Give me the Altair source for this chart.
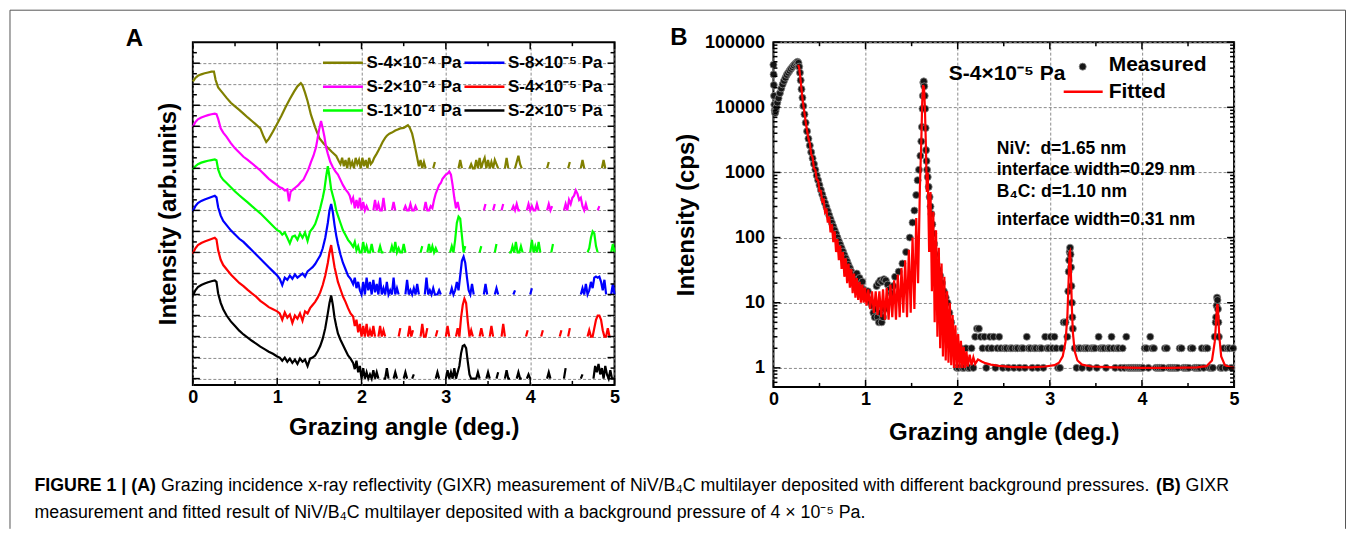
import altair as alt
import pandas as pd

FONT = "Arial"

# ---------------- Panel A : six stacked GIXR curves (log10 units above own baseline) -------------
A_NAMES = ["S-4×10⁻⁴ Pa", "S-8×10⁻⁵ Pa", "S-2×10⁻⁴ Pa",
           "S-4×10⁻⁵ Pa", "S-1×10⁻⁴ Pa", "S-2×10⁻⁵ Pa"]
A_COLORS = ["#808000", "#0000ff", "#ff00ff", "#ff0000", "#00ff00", "#000000"]
A_OFFSETS = [10, 4, 8, 2, 6, 0]

A_OLIVE = [
    (0.00, 4.13), (0.03, 4.3), (0.06, 4.4), (0.10, 4.47), (0.14, 4.52), (0.18, 4.56), (0.22, 4.6),
    (0.25, 4.6), (0.27, 4.2), (0.30, 3.85), (0.35, 3.6), (0.40, 3.35), (0.45, 3.12), (0.50, 2.95),
    (0.55, 2.78), (0.60, 2.6), (0.65, 2.42), (0.70, 2.25), (0.75, 2.08), (0.80, 1.9), (0.84, 1.5),
    (0.87, 1.25), (0.90, 1.4), (0.95, 1.75), (1.00, 2.12), (1.05, 2.5), (1.10, 2.92), (1.15, 3.3),
    (1.20, 3.65), (1.24, 3.9), (1.28, 4.05), (1.30, 3.95), (1.33, 3.6), (1.36, 3.2), (1.40, 2.55),
    (1.45, 1.95), (1.50, 1.43), (1.55, 1.18), (1.60, 0.98), (1.65, 0.78), (1.70, 0.59), (1.73, 0.35),
    (1.75, 0.2), (1.77, 0.5), (1.79, 0.1), (1.81, 0.4), (1.83, 0.0), (1.85, 0.5), (1.87, 0.1),
    (1.89, 0.3), (1.91, 0.0), (1.93, 0.5), (1.95, 0.2), (1.97, 0.4), (1.99, 0.0), (2.01, 0.5),
    (2.03, 0.1), (2.05, 0.4), (2.07, 0.0), (2.09, 0.5), (2.11, 0.2), (2.13, 0.3), (2.15, 0.5),
    (2.18, 0.7), (2.20, 0.85), (2.22, 1.0), (2.25, 1.25), (2.28, 1.45), (2.30, 1.55), (2.33, 1.65),
    (2.36, 1.7), (2.40, 1.8), (2.43, 1.85), (2.46, 1.9), (2.50, 1.92), (2.53, 2.0), (2.55, 2.05),
    (2.57, 1.95), (2.60, 1.65), (2.62, 1.3), (2.64, 0.9), (2.66, 0.5), (2.68, 0.1), (2.70, 0.4),
    (2.72, 0.0), (2.74, 0.3), (2.76, 0.0), (2.78, None), (2.85, 0.0), (2.87, 0.3), (2.89, None),
    (3.00, 0.0), (3.02, None), (3.15, 0.0), (3.17, 0.4), (3.19, 0.0), (3.21, None), (3.28, 0.0),
    (3.30, 0.2), (3.32, 0.0), (3.34, 0.0), (3.36, 0.4), (3.38, 0.0), (3.40, 0.5), (3.42, 0.0),
    (3.44, 0.3), (3.46, 0.5), (3.48, 0.0), (3.50, 0.4), (3.52, 0.0), (3.54, 0.3), (3.56, 0.0),
    (3.58, 0.4), (3.60, 0.2), (3.62, 0.0), (3.64, None), (3.70, 0.0), (3.72, 0.5), (3.74, 0.0),
    (3.76, None), (3.82, 0.0), (3.84, 0.3), (3.86, 0.6), (3.88, 0.2), (3.90, 0.0), (3.92, None),
    (4.00, 0.0), (4.02, None), (4.10, 0.0), (4.12, None), (4.20, 0.0), (4.22, 0.3), (4.24, None),
    (4.30, 0.0), (4.32, None), (4.45, 0.0), (4.47, 0.3), (4.49, None), (4.60, 0.0), (4.62, 0.4),
    (4.64, 0.0), (4.66, None), (4.85, 0.0), (4.87, 0.4), (4.89, 0.0), (4.91, None),
]

A_MAGENTA = [
    (0.00, 3.98), (0.03, 4.2), (0.06, 4.33), (0.10, 4.42), (0.14, 4.48), (0.18, 4.53), (0.22, 4.57),
    (0.26, 4.6), (0.28, 4.58), (0.30, 4.35), (0.33, 3.9), (0.36, 3.7), (0.40, 3.5), (0.45, 3.2),
    (0.50, 2.95), (0.55, 2.75), (0.60, 2.55), (0.65, 2.4), (0.70, 2.24), (0.75, 2.07), (0.80, 1.9),
    (0.85, 1.7), (0.90, 1.5), (0.95, 1.35), (1.00, 1.2), (1.03, 1.1), (1.06, 1.05), (1.09, 0.95),
    (1.12, 1.0), (1.14, 0.43), (1.16, 0.9), (1.19, 1.0), (1.22, 1.1), (1.25, 1.2), (1.28, 1.35),
    (1.31, 1.45), (1.34, 1.7), (1.37, 1.95), (1.40, 2.3), (1.43, 2.6), (1.46, 3.0), (1.48, 3.45),
    (1.50, 3.9), (1.52, 4.25), (1.54, 3.9), (1.56, 3.5), (1.58, 3.0), (1.60, 2.7), (1.63, 2.3),
    (1.66, 2.05), (1.69, 1.85), (1.72, 1.7), (1.75, 1.45), (1.78, 1.2), (1.81, 1.0), (1.84, 0.85),
    (1.86, 0.7), (1.88, 0.4), (1.90, 0.6), (1.92, 0.1), (1.94, 0.5), (1.96, 0.1), (1.98, 0.6),
    (2.00, 0.0), (2.02, 0.4), (2.04, 0.0), (2.06, 0.2), (2.08, 0.0), (2.10, None), (2.14, 0.0),
    (2.16, 0.5), (2.18, 0.0), (2.20, 0.3), (2.22, 0.0), (2.24, 0.0), (2.26, 0.6), (2.28, 0.0),
    (2.30, None), (2.36, 0.0), (2.38, 0.4), (2.40, 0.0), (2.42, None), (2.50, 0.0), (2.52, 0.2),
    (2.54, 0.0), (2.56, 0.0), (2.58, 0.3), (2.60, 0.0), (2.62, 0.0), (2.64, 0.2), (2.66, 0.0),
    (2.68, None), (2.74, 0.0), (2.76, 0.4), (2.78, 0.0), (2.80, 0.0), (2.82, 0.2), (2.84, 0.1),
    (2.86, 0.5), (2.88, 0.8), (2.90, 1.0), (2.92, 1.2), (2.94, 1.3), (2.96, 1.5), (2.98, 1.6),
    (3.00, 1.7), (3.02, 1.75), (3.04, 1.85), (3.06, 1.7), (3.08, 1.2), (3.10, 0.6), (3.12, 0.1),
    (3.14, 0.4), (3.16, 0.0), (3.18, None), (3.25, 0.0), (3.27, None), (3.35, 0.0), (3.37, None),
    (3.45, 0.0), (3.47, 0.3), (3.49, None), (3.56, 0.0), (3.58, 0.3), (3.60, None), (3.66, 0.0),
    (3.68, 0.3), (3.70, None), (3.78, 0.0), (3.80, 0.2), (3.82, 0.0), (3.84, 0.3), (3.86, 0.0),
    (3.88, 0.0), (3.90, None), (3.96, 0.0), (3.98, 0.3), (4.00, 0.0), (4.02, 0.2), (4.04, 0.0),
    (4.06, 0.0), (4.08, 0.3), (4.10, 0.0), (4.12, None), (4.20, 0.0), (4.22, 0.3), (4.24, 0.0),
    (4.26, 0.2), (4.28, None), (4.40, 0.0), (4.42, 0.3), (4.44, 0.0), (4.46, 0.5), (4.48, 0.3),
    (4.50, 0.6), (4.52, 0.7), (4.54, 0.95), (4.56, 0.8), (4.58, 0.5), (4.60, 0.6), (4.62, 0.2),
    (4.64, 0.0), (4.66, 0.3), (4.68, 0.0), (4.70, None), (4.80, 0.0), (4.82, 0.2), (4.84, None),
    (4.95, 0.0), (4.97, None),
]

A_GREEN = [
    (0.00, 3.95), (0.03, 4.1), (0.06, 4.2), (0.10, 4.27), (0.14, 4.32), (0.18, 4.36), (0.22, 4.39),
    (0.26, 4.42), (0.28, 4.38), (0.30, 3.95), (0.33, 3.62), (0.36, 3.45), (0.40, 3.3), (0.45, 3.1),
    (0.50, 2.9), (0.55, 2.72), (0.60, 2.55), (0.65, 2.38), (0.70, 2.2), (0.75, 2.03), (0.80, 1.86),
    (0.85, 1.66), (0.90, 1.46), (0.95, 1.26), (1.00, 1.06), (1.03, 1.0), (1.06, 0.85), (1.09, 0.95),
    (1.12, 0.7), (1.15, 0.43), (1.18, 0.75), (1.21, 0.8), (1.24, 0.6), (1.27, 0.9), (1.30, 0.7),
    (1.33, 0.95), (1.36, 0.55), (1.39, 1.0), (1.42, 1.15), (1.45, 1.35), (1.48, 1.7), (1.51, 2.1),
    (1.54, 2.6), (1.56, 3.0), (1.58, 3.6), (1.60, 4.1), (1.62, 3.6), (1.64, 3.0), (1.66, 2.7),
    (1.68, 2.4), (1.70, 2.0), (1.72, 1.75), (1.75, 1.4), (1.78, 1.05), (1.81, 0.83), (1.84, 0.6),
    (1.87, 0.45), (1.90, 0.27), (1.92, 0.5), (1.94, 0.1), (1.96, 0.3), (1.98, 0.0), (2.00, 0.0),
    (2.02, 0.5), (2.04, 0.0), (2.06, 0.3), (2.08, 0.0), (2.10, 0.0), (2.12, 0.4), (2.14, 0.0),
    (2.16, None), (2.20, 0.0), (2.22, 0.3), (2.24, 0.0), (2.26, 0.0), (2.28, None), (2.34, 0.0),
    (2.36, 0.3), (2.38, 0.0), (2.40, 0.5), (2.42, 0.0), (2.44, 0.2), (2.46, 0.0), (2.48, 0.0),
    (2.50, 0.4), (2.52, 0.0), (2.54, None), (2.70, 0.0), (2.72, 0.3), (2.74, None), (2.78, 0.0),
    (2.80, 0.4), (2.82, 0.0), (2.84, 0.3), (2.86, 0.0), (2.88, 0.2), (2.90, 0.0), (2.92, None),
    (3.05, 0.0), (3.07, 0.3), (3.09, 0.0), (3.11, 0.6), (3.13, 1.4), (3.15, 1.7), (3.17, 1.6),
    (3.19, 0.8), (3.21, 0.0), (3.23, 0.3), (3.25, None), (3.40, 0.0), (3.42, 0.3), (3.44, None),
    (3.58, 0.0), (3.60, 0.4), (3.62, None), (3.75, 0.0), (3.77, 0.0), (3.79, 0.3), (3.81, 0.0),
    (3.83, 0.5), (3.85, 0.0), (3.87, 0.0), (3.89, 0.3), (3.91, 0.0), (3.93, None), (4.00, 0.0),
    (4.02, 0.6), (4.04, 0.0), (4.06, 0.3), (4.08, 0.0), (4.10, 0.5), (4.12, 0.0), (4.14, None),
    (4.25, 0.0), (4.27, 0.4), (4.29, None), (4.40, 0.0), (4.42, None), (4.55, 0.0), (4.57, None),
    (4.68, 0.0), (4.70, 0.2), (4.72, 0.7), (4.74, 1.0), (4.76, 0.9), (4.78, 0.3), (4.80, 0.0),
    (4.82, None), (4.96, 0.0), (4.98, 0.4), (5.00, 0.0),
]

A_BLUE = [
    (0.00, 3.97), (0.03, 4.2), (0.06, 4.35), (0.10, 4.45), (0.14, 4.52), (0.18, 4.58), (0.22, 4.64),
    (0.26, 4.7), (0.28, 4.62), (0.30, 4.15), (0.33, 3.75), (0.36, 3.5), (0.40, 3.3), (0.45, 3.05),
    (0.50, 2.85), (0.55, 2.65), (0.60, 2.5), (0.65, 2.3), (0.70, 2.1), (0.75, 1.9), (0.80, 1.7),
    (0.85, 1.5), (0.90, 1.3), (0.95, 1.1), (1.00, 0.9), (1.03, 0.75), (1.06, 0.45), (1.09, 0.8),
    (1.12, 0.7), (1.15, 0.9), (1.18, 0.75), (1.21, 0.95), (1.24, 0.8), (1.27, 0.9), (1.30, 1.0),
    (1.33, 0.85), (1.36, 1.1), (1.39, 1.2), (1.42, 1.3), (1.45, 1.45), (1.48, 1.65), (1.51, 1.85),
    (1.54, 2.2), (1.57, 2.7), (1.60, 3.4), (1.62, 4.0), (1.64, 4.3), (1.66, 3.9), (1.68, 3.3),
    (1.70, 2.8), (1.72, 2.4), (1.75, 1.9), (1.78, 1.5), (1.81, 1.2), (1.84, 0.9), (1.87, 0.75),
    (1.90, 0.5), (1.92, 0.8), (1.94, 0.3), (1.96, 0.6), (1.98, 0.2), (2.00, 0.0), (2.02, 0.6),
    (2.04, 0.0), (2.06, 0.8), (2.08, 0.2), (2.10, 0.6), (2.12, 0.0), (2.14, 0.7), (2.16, 0.1),
    (2.18, 0.5), (2.20, 0.0), (2.22, 0.8), (2.24, 0.0), (2.26, 0.3), (2.28, 0.0), (2.30, 0.6),
    (2.32, 0.0), (2.34, 0.2), (2.36, 0.0), (2.38, 0.8), (2.40, 0.0), (2.42, 0.3), (2.44, 0.0),
    (2.46, None), (2.52, 0.0), (2.54, 0.7), (2.56, 0.0), (2.58, 0.2), (2.60, 0.0), (2.62, 0.3),
    (2.64, 0.0), (2.66, 0.5), (2.68, 0.0), (2.70, None), (2.75, 0.0), (2.77, 0.8), (2.79, 0.0),
    (2.81, 0.2), (2.83, 0.0), (2.85, 0.3), (2.87, 0.0), (2.90, 0.0), (2.92, 0.2), (2.94, 0.0),
    (2.96, None), (3.05, 0.0), (3.07, 0.3), (3.09, 0.0), (3.11, 0.2), (3.13, 0.6), (3.15, 0.2),
    (3.17, 0.9), (3.19, 1.6), (3.21, 1.8), (3.23, 1.5), (3.25, 0.8), (3.27, 0.2), (3.29, 0.0),
    (3.31, 0.5), (3.33, 0.0), (3.35, None), (3.45, 0.0), (3.47, 0.5), (3.49, 0.0), (3.51, None),
    (3.58, 0.0), (3.60, 0.3), (3.62, 0.0), (3.64, None), (3.70, 0.0), (3.72, None), (3.80, 0.0),
    (3.82, 0.2), (3.84, None), (3.90, 0.0), (3.92, None), (4.00, 0.0), (4.02, 0.3), (4.04, None),
    (4.10, 0.0), (4.12, None), (4.50, 0.0), (4.52, None), (4.60, 0.0), (4.62, 0.3), (4.64, 0.0),
    (4.66, 0.5), (4.68, 0.0), (4.70, 0.2), (4.72, 0.6), (4.74, 0.3), (4.76, 0.8), (4.78, 0.85),
    (4.80, 0.8), (4.82, 0.85), (4.84, 0.6), (4.86, 0.2), (4.88, 0.7), (4.90, 0.0), (4.92, None),
    (4.96, 0.0), (4.98, 0.5), (5.00, 0.0),
]

A_RED = [
    (0.00, 3.95), (0.03, 4.2), (0.06, 4.35), (0.10, 4.45), (0.14, 4.52), (0.18, 4.58), (0.22, 4.64),
    (0.26, 4.7), (0.28, 4.62), (0.30, 4.1), (0.33, 3.65), (0.36, 3.4), (0.40, 3.2), (0.45, 2.95),
    (0.50, 2.75), (0.55, 2.55), (0.60, 2.4), (0.65, 2.22), (0.70, 2.05), (0.75, 1.9), (0.80, 1.7),
    (0.85, 1.55), (0.90, 1.4), (0.95, 1.3), (1.00, 1.2), (1.03, 1.1), (1.06, 0.8), (1.09, 1.15),
    (1.12, 0.9), (1.15, 1.05), (1.18, 0.65), (1.21, 1.0), (1.24, 0.85), (1.27, 1.1), (1.30, 0.75),
    (1.33, 1.2), (1.36, 1.1), (1.39, 1.35), (1.42, 1.5), (1.45, 1.65), (1.48, 1.85), (1.51, 2.1),
    (1.54, 2.45), (1.57, 2.9), (1.60, 3.5), (1.62, 4.0), (1.64, 4.35), (1.66, 3.8), (1.68, 3.3),
    (1.70, 2.95), (1.72, 2.6), (1.75, 2.25), (1.78, 1.9), (1.81, 1.65), (1.84, 1.35), (1.87, 1.1),
    (1.90, 0.95), (1.92, 0.5), (1.94, 0.8), (1.96, 0.2), (1.98, 0.6), (2.00, 0.0), (2.02, 0.5),
    (2.04, 0.0), (2.06, 0.6), (2.08, 0.0), (2.10, 0.3), (2.12, 0.0), (2.14, 0.5), (2.16, 0.0),
    (2.18, None), (2.20, 0.0), (2.22, 0.5), (2.24, 0.0), (2.26, 0.3), (2.28, 0.0), (2.30, None),
    (2.35, 0.0), (2.37, None), (2.44, 0.0), (2.46, 0.4), (2.48, None), (2.55, 0.0), (2.57, 0.5),
    (2.59, 0.0), (2.61, 0.3), (2.63, None), (2.70, 0.0), (2.72, 0.6), (2.74, 0.0), (2.76, 0.0),
    (2.78, 0.4), (2.80, None), (2.88, 0.0), (2.90, 0.3), (2.92, None), (3.00, 0.0), (3.02, 0.5),
    (3.04, 0.0), (3.06, None), (3.12, 0.0), (3.14, 0.4), (3.16, 0.0), (3.18, 0.9), (3.20, 1.5),
    (3.22, 1.8), (3.24, 1.6), (3.26, 0.7), (3.28, 0.0), (3.30, 0.3), (3.32, 0.0), (3.34, None),
    (3.40, 0.0), (3.42, 0.4), (3.44, 0.0), (3.46, None), (3.52, 0.0), (3.54, 0.5), (3.56, 0.0),
    (3.58, None), (3.66, 0.0), (3.68, 0.6), (3.70, 0.0), (3.72, None), (3.95, 0.0), (3.97, 0.3),
    (3.99, None), (4.05, 0.0), (4.07, None), (4.13, 0.0), (4.15, 0.3), (4.17, None), (4.25, 0.0),
    (4.27, None), (4.35, 0.0), (4.37, 0.3), (4.39, None), (4.45, 0.0), (4.47, 0.4), (4.49, None),
    (4.58, 0.0), (4.60, None), (4.68, 0.0), (4.70, 0.3), (4.72, 0.0), (4.74, 0.0), (4.76, 0.4),
    (4.78, 0.8), (4.80, 1.0), (4.82, 1.0), (4.84, 0.8), (4.86, 0.3), (4.88, 0.0), (4.90, 0.0),
    (4.92, 0.4), (4.94, 0.0), (4.96, None), (5.00, 0.0),
]

A_BLACK = [
    (0.00, 3.95), (0.03, 4.2), (0.06, 4.35), (0.10, 4.45), (0.14, 4.52), (0.18, 4.58), (0.22, 4.63),
    (0.26, 4.67), (0.28, 4.6), (0.30, 4.05), (0.33, 3.6), (0.36, 3.3), (0.40, 3.0), (0.45, 2.72),
    (0.50, 2.5), (0.55, 2.28), (0.60, 2.1), (0.65, 1.95), (0.70, 1.8), (0.75, 1.66), (0.80, 1.52),
    (0.85, 1.4), (0.90, 1.28), (0.95, 1.18), (1.00, 1.05), (1.03, 1.0), (1.06, 0.85), (1.09, 1.0),
    (1.12, 0.8), (1.15, 0.95), (1.18, 0.75), (1.21, 0.9), (1.24, 0.7), (1.27, 0.95), (1.30, 0.8),
    (1.33, 0.9), (1.36, 0.6), (1.39, 0.95), (1.42, 1.0), (1.45, 1.1), (1.48, 1.3), (1.51, 1.55),
    (1.54, 1.9), (1.57, 2.4), (1.60, 3.1), (1.62, 3.6), (1.64, 3.95), (1.66, 3.5), (1.68, 2.9),
    (1.70, 2.5), (1.72, 2.15), (1.75, 1.85), (1.78, 1.6), (1.81, 1.35), (1.84, 1.1), (1.87, 0.95),
    (1.90, 0.75), (1.92, 0.45), (1.94, 0.85), (1.96, 0.3), (1.98, 0.6), (2.00, 0.0), (2.02, 0.5),
    (2.04, 0.0), (2.06, 0.3), (2.08, 0.0), (2.10, 0.2), (2.12, 0.0), (2.14, 0.4), (2.16, 0.0),
    (2.18, 0.3), (2.20, 0.0), (2.22, None), (2.26, 0.0), (2.28, 0.0), (2.30, 0.5), (2.32, 0.0),
    (2.34, None), (2.38, 0.0), (2.40, 0.3), (2.42, 0.0), (2.45, None), (2.50, 0.0), (2.52, 0.3),
    (2.54, 0.0), (2.56, None), (2.60, 0.0), (2.62, 0.2), (2.64, None), (2.70, 0.0), (2.72, None),
    (2.80, 0.0), (2.82, None), (2.88, 0.0), (2.90, 0.3), (2.92, 0.0), (2.94, None), (3.00, 0.0),
    (3.02, 0.4), (3.04, 0.0), (3.06, 0.3), (3.08, 0.0), (3.10, 0.5), (3.12, 0.0), (3.14, 0.3),
    (3.16, 0.6), (3.18, 1.2), (3.20, 1.55), (3.22, 1.6), (3.24, 1.45), (3.26, 0.8), (3.28, 0.2),
    (3.30, 0.0), (3.33, 0.0), (3.36, 0.0), (3.38, 0.3), (3.40, 0.0), (3.42, None), (3.48, 0.0),
    (3.50, 0.3), (3.52, 0.0), (3.54, None), (3.60, 0.0), (3.62, 0.3), (3.64, None), (3.70, 0.0),
    (3.72, 0.4), (3.74, 0.0), (3.76, 0.0), (3.78, None), (3.84, 0.0), (3.86, 0.3), (3.88, 0.0),
    (3.90, 0.0), (3.92, None), (3.96, 0.0), (3.98, 0.2), (4.00, 0.0), (4.02, None), (4.10, 0.0),
    (4.12, None), (4.20, 0.0), (4.22, 0.3), (4.24, 0.0), (4.26, None), (4.40, 0.0), (4.42, 0.5),
    (4.44, None), (4.52, 0.0), (4.54, None), (4.60, 0.0), (4.62, 0.2), (4.64, None), (4.75, 0.0),
    (4.77, 0.6), (4.79, 0.3), (4.81, 0.7), (4.83, 0.2), (4.85, 0.5), (4.87, 0.0), (4.89, 0.6),
    (4.91, 0.2), (4.93, 0.0), (4.95, 0.4), (4.97, 0.0), (5.00, 0.0),
]

A_SERIES = [A_OLIVE, A_BLUE, A_MAGENTA, A_RED, A_GREEN, A_BLACK]

# ---------------- Panel B : measured counts and fitted curve (cps) ----------------
B_MEASURED = [
    (0.000, 45000), (0.002, 32000), (0.004, 22000), (0.007, 15000), (0.010, 11000), (0.014, 9000),
    (0.018, 8200), (0.024, 8800), (0.032, 10000), (0.042, 11800), (0.055, 13800), (0.070, 16500),
    (0.085, 19500), (0.100, 22500), (0.115, 25500), (0.130, 28500), (0.145, 31500), (0.160, 34000),
    (0.175, 36500), (0.190, 39000), (0.205, 41500), (0.220, 44000), (0.235, 46500), (0.250, 48500),
    (0.262, 50000), (0.272, 48000), (0.280, 42000), (0.288, 34000), (0.296, 26000), (0.305, 19000),
    (0.315, 14000), (0.325, 10500), (0.337, 7800), (0.350, 5800), (0.365, 4300), (0.380, 3300),
    (0.395, 2600), (0.410, 2050), (0.425, 1650), (0.440, 1350), (0.455, 1100), (0.470, 900),
    (0.485, 760), (0.500, 640), (0.515, 540), (0.530, 460), (0.545, 395), (0.560, 340),
    (0.575, 295), (0.590, 255), (0.605, 220), (0.620, 192), (0.635, 168), (0.650, 148),
    (0.665, 130), (0.680, 114), (0.695, 100), (0.710, 88), (0.725, 78), (0.740, 69), (0.755, 61),
    (0.770, 54), (0.785, 48), (0.800, 43), (0.815, 38), (0.830, 34), (0.845, 30), (0.860, 27),
    (0.875, 24), (0.890, 22), (0.905, 28), (0.920, 20), (0.935, 24), (0.950, 18), (0.965, 21),
    (0.980, 16), (0.995, 15), (1.010, 13), (1.025, 15), (1.040, 11), (1.055, 10), (1.070, 9),
    (1.085, 7), (1.100, 6), (1.115, 8), (1.130, 6), (1.145, 5), (1.160, 7), (1.175, 5), (1.190, 6),
    (1.205, 8), (1.120, 18), (1.140, 20), (1.160, 22), (1.180, 21), (1.200, 23), (1.220, 22),
    (1.240, 19), (1.260, 16), (1.280, 14), (1.300, 18), (1.320, 25), (1.360, 30), (1.400, 40),
    (1.440, 60), (1.480, 100), (1.510, 170), (1.530, 260), (1.550, 450), (1.565, 760),
    (1.580, 1100), (1.595, 1800), (1.605, 3000), (1.612, 5000), (1.618, 9500), (1.622, 15000),
    (1.627, 24000), (1.632, 25000), (1.637, 21000), (1.642, 15000), (1.647, 9500), (1.652, 4800),
    (1.657, 2200), (1.662, 1500), (1.668, 1100), (1.675, 850), (1.685, 600), (1.695, 420),
    (1.705, 300), (1.715, 230), (1.725, 160), (1.735, 115), (1.745, 80), (1.755, 55), (1.770, 40),
    (1.790, 32), (1.810, 26), (1.830, 20), (1.850, 15), (1.870, 12), (1.890, 10), (1.910, 7),
    (1.930, 5), (1.950, 3), (1.970, 2),
    (1.99, 1), (2.01, 1), (2.03, 2), (2.05, 1), (2.07, 1), (2.09, 2), (2.11, 1), (2.13, 1),
    (2.15, 2), (2.17, 1), (2.19, 3), (2.21, 4), (2.23, 4), (2.25, 3), (2.27, 2), (2.29, 3),
    (2.31, 1), (2.33, 2), (2.35, 3), (2.37, 2), (2.39, 3), (2.41, 1), (2.43, 2), (2.45, 3),
    (2.47, 2), (2.49, 1), (2.51, 2), (2.53, 2), (2.55, 1), (2.57, 2), (2.59, 2), (2.61, 1),
    (2.63, 2), (2.65, 2), (2.67, 1), (2.69, 2), (2.71, 2), (2.73, 1), (2.75, 3), (2.77, 2),
    (2.79, 2), (2.81, 1), (2.83, 2), (2.85, 2), (2.87, 1), (2.89, 2), (2.91, 2), (2.93, 1),
    (2.95, 3), (2.97, 2), (2.99, 2), (3.01, 3), (3.03, 2), (3.05, 3), (3.07, 2), (3.09, 1),
    (3.11, 1), (3.13, 2), (3.15, 5), (3.17, 5), (3.19, 3), (3.200, 15), (3.205, 30), (3.210, 45),
    (3.215, 60), (3.220, 70), (3.225, 55), (3.230, 35), (3.235, 18), (3.240, 10), (3.245, 6),
    (3.25, 4), (3.27, 2), (3.29, 1), (3.31, 2), (3.33, 2), (3.35, 1), (3.37, 2), (3.39, 2),
    (3.41, 2), (3.43, 1), (3.45, 2), (3.47, 2), (3.49, 2), (3.51, 1), (3.53, 3), (3.55, 2),
    (3.57, 2), (3.59, 2), (3.61, 1), (3.63, 2), (3.65, 2), (3.67, 3), (3.69, 2), (3.71, 1),
    (3.73, 2), (3.75, 2), (3.77, 1), (3.79, 2), (3.81, 1), (3.83, 3), (3.85, 1), (3.87, 1),
    (3.89, 1), (3.91, 1), (3.93, 1), (3.95, 1), (3.97, 1), (3.99, 1), (4.01, 1), (4.03, 2),
    (4.05, 2), (4.07, 1), (4.09, 3), (4.11, 2), (4.13, 2), (4.15, 1), (4.17, 1), (4.19, 1),
    (4.21, 1), (4.23, 1), (4.25, 2), (4.27, 2), (4.29, 1), (4.31, 1), (4.33, 1), (4.35, 1),
    (4.37, 1), (4.39, 1), (4.41, 2), (4.43, 2), (4.45, 1), (4.47, 1), (4.49, 1), (4.51, 1),
    (4.53, 2), (4.55, 2), (4.57, 1), (4.59, 1), (4.61, 1), (4.63, 1), (4.65, 2), (4.67, 1),
    (4.69, 2), (4.71, 2), (4.73, 1), (4.75, 1), (4.77, 1), (4.79, 3), (4.800, 5), (4.805, 6),
    (4.810, 9), (4.815, 12), (4.820, 11), (4.825, 8), (4.830, 5), (4.835, 3), (4.85, 1),
    (4.87, 1), (4.89, 2), (4.91, 1), (4.93, 2), (4.95, 2), (4.97, 1), (4.99, 2),
]

B_FITTED = [
    (0.270, 45000), (0.280, 40000), (0.290, 30000), (0.300, 22000), (0.310, 16000), (0.320, 12000),
    (0.335, 8500), (0.350, 6000), (0.365, 4400), (0.380, 3300), (0.395, 2800), (0.410, 1900),
    (0.425, 1700), (0.440, 1150), (0.455, 1100), (0.470, 780), (0.485, 750), (0.500, 520),
    (0.515, 520), (0.530, 360), (0.545, 380), (0.560, 250), (0.575, 280), (0.590, 170),
    (0.605, 210), (0.620, 120), (0.635, 160), (0.650, 85), (0.665, 125), (0.680, 60), (0.695, 95),
    (0.710, 45), (0.725, 75), (0.740, 33), (0.755, 60), (0.770, 25), (0.785, 48), (0.800, 20),
    (0.815, 40), (0.830, 17), (0.845, 33), (0.860, 14), (0.875, 28), (0.890, 12), (0.905, 24),
    (0.920, 11), (0.935, 21), (0.950, 10), (0.965, 19), (0.980, 10), (0.995, 17), (1.010, 9),
    (1.030, 16), (1.050, 8), (1.070, 15), (1.090, 7), (1.110, 15), (1.130, 6.5), (1.150, 15),
    (1.170, 6), (1.190, 16), (1.210, 5.5), (1.230, 17), (1.250, 5.5), (1.270, 19), (1.290, 6),
    (1.310, 22), (1.330, 5.5), (1.350, 27), (1.370, 6), (1.390, 34), (1.410, 7), (1.430, 45),
    (1.450, 6), (1.470, 65), (1.490, 7), (1.510, 100), (1.530, 8), (1.550, 200), (1.570, 20),
    (1.590, 600), (1.605, 3000), (1.615, 12000), (1.625, 22000), (1.635, 20000), (1.645, 9000),
    (1.655, 2500), (1.665, 500), (1.675, 1000), (1.690, 60), (1.705, 500), (1.720, 15),
    (1.735, 250), (1.750, 5), (1.765, 130), (1.780, 3), (1.795, 70), (1.810, 2), (1.825, 40),
    (1.840, 1.5), (1.855, 25), (1.870, 1.3), (1.885, 15), (1.900, 1.2), (1.915, 10), (1.930, 1.1),
    (1.945, 6.5), (1.960, 1.0), (1.975, 4.5), (1.990, 1.0), (2.005, 3.3), (2.020, 1.0),
    (2.035, 2.6), (2.050, 1.0), (2.065, 2.1), (2.080, 1.0), (2.095, 1.8), (2.110, 1.05),
    (2.130, 1.6), (2.150, 1.1), (2.170, 1.45), (2.190, 1.15), (2.220, 1.35), (2.260, 1.25),
    (2.300, 1.18), (2.360, 1.12), (2.450, 1.07), (2.600, 1.03), (2.800, 1.02), (2.950, 1.05),
    (3.050, 1.1), (3.100, 1.2), (3.140, 1.5), (3.170, 2.5), (3.190, 6), (3.200, 15), (3.210, 40),
    (3.215, 60), (3.220, 62), (3.225, 45), (3.230, 25), (3.240, 8), (3.250, 3.5), (3.270, 1.8),
    (3.300, 1.3), (3.350, 1.12), (3.450, 1.05), (3.700, 1.02), (4.000, 1.0), (4.300, 1.0),
    (4.600, 1.02), (4.700, 1.06), (4.760, 1.3), (4.790, 2.5), (4.800, 4), (4.810, 7), (4.815, 9),
    (4.820, 9.5), (4.825, 8), (4.830, 5.5), (4.840, 3), (4.860, 1.5), (4.900, 1.1), (4.950, 1.03),
    (5.000, 1.0),
]

X_LABELS = [0, 1, 2, 3, 4, 5]
B_Y_LABELS = [1, 10, 100, 1000, 10000, 100000]

CAPTION_1 = ["FIGURE 1 | (A)",
             "Grazing incidence x-ray reflectivity (GIXR) measurement of NiV/B₄C multilayer "
             "deposited with different background pressures.",
             "(B)", "GIXR"]
CAPTION_2 = ("measurement and fitted result of NiV/B₄C multilayer deposited with a "
             "background pressure of 4 × 10⁻⁵ Pa.")
B_SAMPLE = "S-4×10⁻⁵ Pa"
B_NOTES = ["NiV:\u00a0 d=1.65 nm", "interface width=0.29 nm", "B₄C: d=1.10 nm",
           "interface width=0.31 nm"]

# ---------------- layout constants (pixels) ----------------
AW, AH = 422, 343
BW, BH = 461, 345
GRID = dict(gridColor="#8c8c8c", gridDash=[3, 2], gridWidth=1, gridOpacity=1)
LAB = dict(labelFont=FONT, labelFontSize=18, labelFontWeight="bold", labelColor="black")
TIT = dict(titleFont=FONT, titleFontSize=24, titleFontWeight="bold", titleColor="black")

ONE = pd.DataFrame({"k": [0]})


def txt(s, x, y, size, bold=True, align="left", color="black"):
    return alt.Chart(ONE).mark_text(
        align=align, baseline="middle", font=FONT, fontSize=size,
        fontWeight="bold" if bold else "normal", color=color,
    ).encode(x=alt.value(x), y=alt.value(y), text=alt.value(s))


def hrule(x1, x2, y, color="black", w=1.0):
    return alt.Chart(ONE).mark_rule(color=color, strokeWidth=w).encode(
        x=alt.value(x1), x2=alt.value(x2), y=alt.value(y))


def vrule(x, y1, y2, color="black", w=1.0):
    return alt.Chart(ONE).mark_rule(color=color, strokeWidth=w).encode(
        x=alt.value(x), y=alt.value(y1), y2=alt.value(y2))


def frame_ticks(xs, ys, xax, yax, xmaj, xmin, ymaj, ymin, W, H):
    """Inward-pointing ticks on all four sides of a plot frame."""
    out = []
    for vals, L in ((xmaj, 7), (xmin, 4)):
        base = alt.Chart(pd.DataFrame({"tv": vals})).mark_rule(color="black", strokeWidth=1.5)
        xe = alt.X("tv:Q", scale=xs, axis=xax)
        out.append(base.encode(x=xe, y=alt.value(H), y2=alt.value(H - L)))
        out.append(base.encode(x=xe, y=alt.value(0), y2=alt.value(L)))
    for vals, L in ((ymaj, 7), (ymin, 4)):
        base = alt.Chart(pd.DataFrame({"tv": vals})).mark_rule(color="black", strokeWidth=1.5)
        ye = alt.Y("tv:Q", scale=ys, axis=yax)
        out.append(base.encode(y=ye, x=alt.value(0), x2=alt.value(L)))
        out.append(base.encode(y=ye, x=alt.value(W), x2=alt.value(W - L)))
    return out


# text width estimate (Helvetica metrics, per 1000 em) for placing caption segments
REG_W = {}
for chars, w in (("ijl", 222), (" ,./:;If!t", 278), ("()-r", 333), ("cksvxyzJ", 500),
                 ("abdeghnopqu0123456789L", 556), ("×=+", 584), ("FTZ", 611),
                 ("ABEKPSVXY", 667), ("CDHNRUw", 722), ("GOQ", 778), ("mM", 833), ("W", 944),
                 ("|", 260)):
    for c in chars:
        REG_W[c] = w
BOLD_W = {}
for chars, w in ((" I.,", 278), ("|", 280), ("()", 333), ("0123456789", 556), ("F", 611),
                 ("E", 667), ("ABRU", 722), ("G", 778)):
    for c in chars:
        BOLD_W[c] = w


def text_w(s, size, table):
    return sum(table.get(c, 420) for c in s) * size / 1000.0


# ---------------- Panel A ----------------
rows = []
for name, off, pts in zip(A_NAMES, A_OFFSETS, A_SERIES):
    for i, (x, y) in enumerate(pts):
        rows.append({"series": name, "x": x, "y": (None if y is None else y + off), "i": i})
dfA = pd.DataFrame(rows)

xA = alt.Scale(domain=[0, 5], nice=False, zero=False)
yA = alt.Scale(domain=[-0.3, 16.0], nice=False, zero=False)
axAx = alt.Axis(values=X_LABELS, format="d", title="Grazing angle (deg.)", grid=True, ticks=False,
                domain=False, labelFlush=False, labelPadding=4, titlePadding=9,
                **GRID, **LAB, **TIT)
axAy = alt.Axis(values=list(range(16)), labels=False, ticks=False, domain=False, grid=True,
                title="Intensity (arb.units)", titlePadding=12, minExtent=0, **GRID, **TIT)

linesA = alt.Chart(dfA).mark_line(strokeWidth=2.2).encode(
    x=alt.X("x:Q", scale=xA, axis=axAx),
    y=alt.Y("y:Q", scale=yA, axis=axAy),
    color=alt.Color("series:N", scale=alt.Scale(domain=A_NAMES, range=A_COLORS), legend=None),
    detail="series:N",
    order="i:Q",
)

ticksA = frame_ticks(xA, yA, axAx, axAy, X_LABELS, [0.5, 1.5, 2.5, 3.5, 4.5],
                     list(range(16)), [k + 0.5 for k in range(16)], AW, AH)

legendA = []
for j, (name, col) in enumerate(zip(A_NAMES, A_COLORS)):
    cx = 130.2 + (j % 2) * 141.6
    cy = 20.5 + (j // 2) * 24
    legendA.append(hrule(cx, cx + 40, cy, color=col, w=2.5))
    legendA.append(txt(name, cx + 43.5, cy, 17))

# caption + panel letter + outer frame (drawn relative to panel A's plot area)
cap_x0 = -158.5
cap_size = 17.8
sp = text_w(" ", cap_size, REG_W)
x1 = cap_x0
x2 = x1 + text_w(CAPTION_1[0], cap_size, BOLD_W) + sp
x3 = x2 + text_w(CAPTION_1[1], cap_size, REG_W) + sp
x4 = x3 + text_w(CAPTION_1[2], cap_size, BOLD_W) + sp
caption = [
    txt(CAPTION_1[0], x1, 444.5, cap_size, bold=True),
    txt(CAPTION_1[1], x2, 444.5, cap_size, bold=False),
    txt(CAPTION_1[2], x3, 444.5, cap_size, bold=True),
    txt(CAPTION_1[3], x4, 444.5, cap_size, bold=False),
    txt(CAPTION_2, cap_x0, 471.5, cap_size, bold=False),
]
frame = [
    vrule(-183, -32, 487, color="#555555"),
    hrule(-183, 1153.5, -32, color="#555555"),
    vrule(1153.5, -32, 487, color="#555555"),
]
letterA = txt("A", -58.5, -3.5, 24, align="center")

panelA = alt.layer(linesA, *ticksA, *legendA, letterA, *caption, *frame).properties(
    width=AW, height=AH)

# ---------------- Panel B ----------------
dfM = pd.DataFrame(B_MEASURED, columns=["x", "y"])
dfF = pd.DataFrame(B_FITTED, columns=["x", "y"])
dfF["i"] = range(len(dfF))

xB = alt.Scale(domain=[0, 5], nice=False, zero=False)
yB = alt.Scale(type="log", domain=[0.51, 100000], nice=False)

axBx = alt.Axis(values=X_LABELS, format="d", title="Grazing angle (deg.)", grid=True,
                ticks=False, domain=False, labelFlush=False, labelPadding=4, titlePadding=12,
                **GRID, **LAB, **TIT)
axBy = alt.Axis(values=B_Y_LABELS, format="d", title="Intensity (cps)", grid=True, ticks=False,
                domain=False, labelPadding=9, titlePadding=6, minExtent=0, **GRID, **LAB, **TIT)

measured = alt.Chart(dfM).mark_circle(
    size=50, fill="#161616", stroke="#8c8c8c", strokeWidth=0.8, opacity=1
).encode(x=alt.X("x:Q", scale=xB, axis=axBx), y=alt.Y("y:Q", scale=yB, axis=axBy))

fitted = alt.Chart(dfF).mark_line(color="#ff0000", strokeWidth=2.2).encode(
    x=alt.X("x:Q", scale=xB, axis=axBx), y=alt.Y("y:Q", scale=yB, axis=axBy), order="i:Q")

minorB = [m * 10 ** k for k in range(-1, 5) for m in range(2, 10) if 0.51 <= m * 10 ** k <= 1e5]
ticksB = frame_ticks(xB, yB, axBx, axBy, X_LABELS, [0.5, 1.5, 2.5, 3.5, 4.5],
                     B_Y_LABELS, minorB, BW, BH)

dot = alt.Chart(ONE).mark_circle(size=50, fill="#161616", stroke="#8c8c8c", strokeWidth=0.8,
                                 opacity=1).encode(x=alt.value(309.5), y=alt.value(24.5))
legendB = [
    txt(B_SAMPLE, 175.5, 31.5, 21),
    dot,
    txt("Measured", 335.5, 23, 21),
    hrule(290.5, 329.5, 49.5, color="#ff0000", w=2.5),
    txt("Fitted", 335.5, 49.5, 21),
]
notes = [txt(s, 223.5, yy, 17.5) for s, yy in zip(B_NOTES, [106.5, 127.5, 149.5, 177.5])]
letterB = txt("B", -94.5, -4.5, 24, align="center")

panelB = alt.layer(measured, fitted, *ticksB, *legendB, *notes, letterB).properties(
    width=BW, height=BH)

chart = alt.hconcat(panelA, panelB, spacing=159, bounds="flush").properties(
    padding=0, background="white"
).configure_view(stroke="black", strokeWidth=2)

chart.save("out.html", embed_options={"renderer": "svg", "actions": False})
